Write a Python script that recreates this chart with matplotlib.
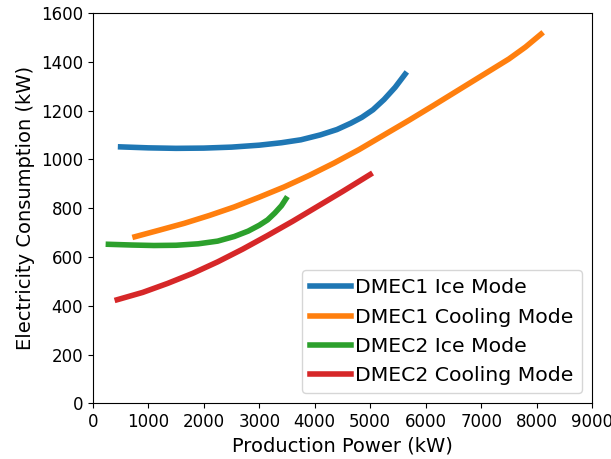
import matplotlib
matplotlib.use("Agg")
import matplotlib.pyplot as plt

# operating curves: production power (kW) vs electricity consumption (kW)
dmec1_ice_x = [500, 1000, 1500, 2000, 2500, 3000, 3400, 3750, 4100, 4400, 4650, 4850, 5050, 5250, 5450, 5630]
dmec1_ice_y = [1051, 1047, 1045, 1046, 1050, 1058, 1068, 1080, 1100, 1122, 1148, 1172, 1203, 1245, 1295, 1349]

dmec1_cool_x = [760, 1200, 1650, 2100, 2550, 3000, 3450, 3900, 4350, 4800, 5250, 5700, 6150, 6600, 7050, 7500, 7800, 8080]
dmec1_cool_y = [683, 710, 738, 770, 805, 845, 887, 934, 985, 1040, 1100, 1160, 1222, 1285, 1348, 1411, 1460, 1513]

dmec2_ice_x = [280, 700, 1100, 1500, 1900, 2250, 2550, 2800, 3000, 3150, 3280, 3400, 3480]
dmec2_ice_y = [652, 649, 647, 648, 654, 665, 684, 706, 730, 752, 780, 810, 838]

dmec2_cool_x = [440, 900, 1350, 1800, 2250, 2700, 3150, 3600, 4050, 4500, 5000]
dmec2_cool_y = [425, 455, 492, 533, 580, 632, 688, 746, 807, 868, 938]

fig = plt.figure(figsize=(6.11, 4.59), dpi=100)
ax = fig.add_axes([0.152, 0.121, 0.817, 0.851])

ax.plot(dmec1_ice_x, dmec1_ice_y, lw=4, label="DMEC1 Ice Mode")
ax.plot(dmec1_cool_x, dmec1_cool_y, lw=4, label="DMEC1 Cooling Mode")
ax.plot(dmec2_ice_x, dmec2_ice_y, lw=4, label="DMEC2 Ice Mode")
ax.plot(dmec2_cool_x, dmec2_cool_y, lw=4, label="DMEC2 Cooling Mode")

ax.set_xlim(0, 9000)
ax.set_ylim(0, 1600)
ax.tick_params(labelsize=12)
ax.set_xlabel("Production Power (kW)", fontsize=14)
ax.set_ylabel("Electricity Consumption (kW)", fontsize=14)
ax.legend(loc="lower right", fontsize=14.7, handlelength=2, borderpad=0.4,
          labelspacing=0.5, handletextpad=0.2)

fig.savefig("out.png", dpi=100)
